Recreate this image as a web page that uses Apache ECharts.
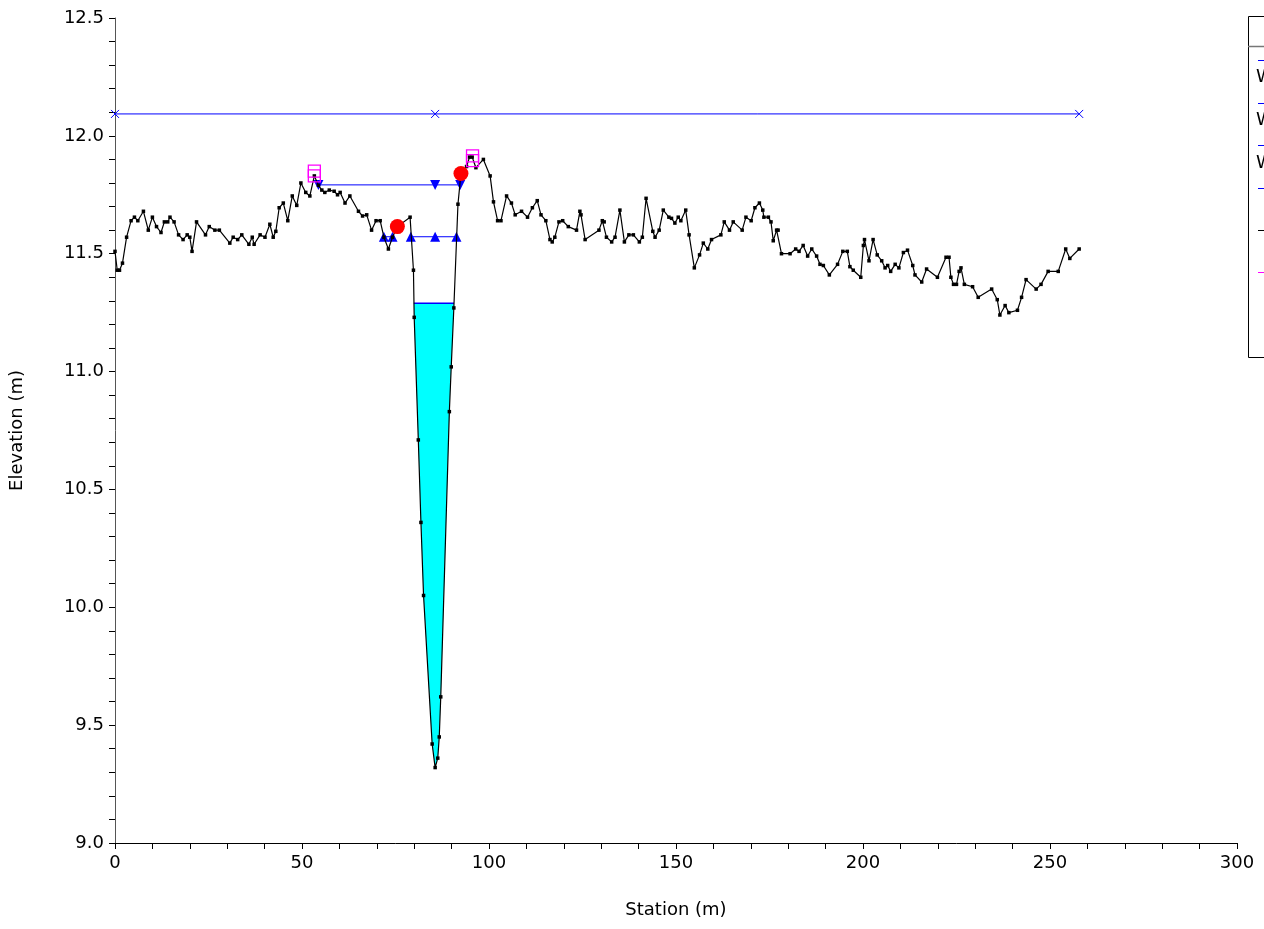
<!DOCTYPE html>
<html>
<head>
<meta charset="utf-8">
<script src="https://cdn.jsdelivr.net/npm/echarts@6/dist/echarts.min.js"></script>
<style>html,body{margin:0;padding:0;background:#fff;}#c{width:1264px;height:929px;}</style>
</head>
<body>
<div id="c"></div>
<script>
// ---- data ----
const groundSta = [0.0,0.6,1.2,2.0,3.1,4.3,5.2,6.1,7.6,8.9,10.0,11.1,12.3,13.2,14.1,14.7,15.8,17.0,18.2,19.3,20.0,20.6,21.8,24.2,25.2,26.7,27.9,30.7,31.6,32.8,33.9,35.8,36.7,37.2,38.8,40.1,41.4,42.3,43.0,43.9,45.0,46.2,47.4,48.6,49.7,51.0,52.1,53.3,54.4,55.3,56.1,57.3,58.6,59.5,60.2,61.5,62.8,65.1,66.2,67.3,68.6,69.8,70.9,71.9,73.1,74.2,75.5,78.9,79.8,80.0,81.1,81.8,82.5,84.8,85.6,86.3,86.7,87.1,89.4,89.9,90.6,91.7,92.5,94.0,94.8,95.5,96.5,98.5,100.3,101.2,102.3,103.2,104.7,106.0,107.0,108.7,110.3,111.6,112.9,113.9,115.2,116.3,116.9,117.6,118.7,119.7,121.2,123.4,124.3,124.6,125.7,129.4,130.3,130.8,131.4,132.8,133.7,135.0,136.2,137.4,138.6,140.2,141.0,142.0,143.8,144.4,145.5,146.6,148.1,148.8,149.7,150.6,151.3,152.6,153.5,154.9,156.3,157.3,158.5,159.5,162.0,162.9,164.3,165.3,167.7,168.7,170.1,171.1,172.3,173.2,173.5,174.7,175.4,176.0,176.9,177.3,178.2,180.5,182.0,182.9,184.0,185.2,186.3,187.6,188.5,189.4,191.0,193.2,194.6,195.8,196.5,197.4,199.4,200.1,200.4,201.6,202.7,203.8,205.0,205.9,206.6,207.4,208.6,209.6,210.8,211.9,213.3,213.9,215.7,217.0,219.9,222.2,223.0,223.5,224.2,225.0,225.7,226.2,227.1,229.3,230.8,234.4,235.9,236.6,238.0,239.0,241.3,242.4,243.6,246.3,247.6,249.5,252.2,254.2,255.3,257.8];
const groundEl = [11.51,11.43,11.43,11.46,11.57,11.64,11.655,11.64,11.68,11.60,11.655,11.615,11.59,11.635,11.635,11.655,11.635,11.58,11.56,11.58,11.57,11.51,11.635,11.58,11.615,11.60,11.60,11.545,11.57,11.56,11.58,11.54,11.57,11.54,11.58,11.57,11.625,11.57,11.595,11.695,11.715,11.64,11.745,11.705,11.80,11.76,11.745,11.83,11.79,11.77,11.76,11.77,11.765,11.75,11.76,11.715,11.745,11.68,11.66,11.665,11.60,11.64,11.64,11.57,11.52,11.57,11.615,11.655,11.43,11.23,10.71,10.36,10.05,9.42,9.32,9.36,9.45,9.62,10.83,11.02,11.27,11.71,11.84,11.87,11.91,11.91,11.865,11.90,11.83,11.72,11.64,11.64,11.745,11.715,11.665,11.68,11.655,11.695,11.725,11.665,11.64,11.56,11.55,11.57,11.635,11.64,11.615,11.60,11.68,11.665,11.56,11.60,11.64,11.635,11.57,11.55,11.57,11.685,11.55,11.58,11.58,11.55,11.57,11.735,11.595,11.57,11.60,11.685,11.655,11.65,11.63,11.655,11.64,11.685,11.58,11.44,11.495,11.545,11.52,11.56,11.58,11.635,11.60,11.635,11.60,11.655,11.64,11.695,11.715,11.685,11.655,11.655,11.635,11.555,11.60,11.60,11.50,11.50,11.52,11.51,11.535,11.49,11.52,11.49,11.455,11.45,11.41,11.455,11.51,11.51,11.445,11.43,11.40,11.535,11.56,11.47,11.56,11.495,11.47,11.44,11.45,11.425,11.455,11.44,11.505,11.515,11.45,11.41,11.38,11.435,11.40,11.485,11.485,11.40,11.37,11.37,11.425,11.44,11.37,11.36,11.315,11.35,11.305,11.24,11.28,11.25,11.26,11.315,11.39,11.35,11.37,11.425,11.425,11.52,11.48,11.52];

const wsTopSta = [0.0, 85.6, 257.8];      const wsTopEl = 12.093;
const wsHighSta = [54.4, 85.6, 92.3];     const wsHighEl = 11.792;
const wsMidLeftSta = [71.9, 74.2];
const wsMidMainSta = [79.1, 85.6, 91.3];  const wsMidEl = 11.572;
const wsLowSta = [79.9, 90.65];           const wsLowEl = 11.29;
const bankSta = [75.5, 92.5];             const bankEl = [11.615, 11.84];
const leveeSta = [53.3, 53.3, 95.6, 95.6]; const leveeEl = [11.85, 11.83, 11.915, 11.895];
const legendLabels = ['WS PF 4', 'WS PF 3', 'WS PF 2'];

// ---- build ----
const ground = groundSta.map((s, i) => [s, groundEl[i]]);
const poly = [[wsLowSta[0], wsLowEl]]
  .concat(ground.filter(p => p[0] > wsLowSta[0] && p[0] < wsLowSta[1]))
  .concat([[wsLowSta[1], wsLowEl]]);
const xSym = 'path://M0,0L10,10M10,0L0,10';
const BLUE = '#0000ff';
const F = 'DejaVu Sans, Arial, sans-serif';
const FS = 18;

const chart = echarts.init(document.getElementById('c'));
chart.setOption({
  animation: false,
  backgroundColor: '#fff',
  grid: { left: 115, right: 27, top: 18, bottom: 86 },
  xAxis: {
    type: 'value', min: 0, max: 300, interval: 50,
    name: 'Station (m)', nameLocation: 'middle', nameGap: 58,
    nameTextStyle: { color: '#000', fontSize: FS, fontFamily: F },
    axisLine: { show: true, onZero: false, lineStyle: { color: '#000', width: 1 } },
    axisTick: { show: true, length: 6, lineStyle: { color: '#000' } },
    minorTick: { show: true, splitNumber: 5, length: 6, lineStyle: { color: '#000' } },
    axisLabel: { color: '#000', fontSize: FS, fontFamily: F, margin: 11 },
    splitLine: { show: false }
  },
  yAxis: {
    type: 'value', min: 9.0, max: 12.5, interval: 0.5,
    name: 'Elevation (m)', nameLocation: 'middle', nameGap: 89,
    nameTextStyle: { color: '#000', fontSize: FS, fontFamily: F },
    axisLine: { show: true, onZero: false, lineStyle: { color: '#555', width: 1 } },
    axisTick: { show: true, length: 6, lineStyle: { color: '#000' } },
    minorTick: { show: true, splitNumber: 5, length: 6, lineStyle: { color: '#000' } },
    axisLabel: { color: '#000', fontSize: FS, fontFamily: F, margin: 11, formatter: v => v.toFixed(1) },
    splitLine: { show: false }
  },
  series: [
    {
      type: 'custom', coordinateSystem: 'cartesian2d', data: [[85, 10]], z: 1, silent: true,
      renderItem: (params, api) => ({
        type: 'polygon',
        shape: { points: poly.map(p => api.coord(p)) },
        style: { fill: '#00ffff', stroke: 'none' }
      })
    },
    {
      type: 'line', data: wsLowSta.map(s => [s, wsLowEl]), symbol: 'none', z: 2,
      lineStyle: { color: BLUE, width: 1.5 }
    },
    {
      type: 'line', data: wsTopSta.map(s => [s, wsTopEl]), z: 3,
      symbol: xSym, symbolSize: 8,
      itemStyle: { color: 'transparent', borderColor: BLUE, borderWidth: 1 },
      lineStyle: { color: BLUE, width: 1 }
    },
    {
      type: 'line', data: wsHighSta.map(s => [s, wsHighEl]), z: 3,
      symbol: 'triangle', symbolRotate: 180, symbolSize: 10,
      itemStyle: { color: BLUE }, lineStyle: { color: BLUE, width: 1 }
    },
    {
      type: 'line', data: wsMidLeftSta.map(s => [s, wsMidEl]), z: 3,
      symbol: 'triangle', symbolSize: 10,
      itemStyle: { color: BLUE }, lineStyle: { color: BLUE, width: 1 }
    },
    {
      type: 'line', data: wsMidMainSta.map(s => [s, wsMidEl]), z: 3,
      symbol: 'triangle', symbolSize: 10,
      itemStyle: { color: BLUE }, lineStyle: { color: BLUE, width: 1 }
    },
    {
      type: 'line', data: ground, z: 4,
      symbol: 'rect', symbolSize: 3.5, showAllSymbol: true,
      itemStyle: { color: '#000' }, lineStyle: { color: '#000', width: 1.2 }
    },
    {
      type: 'scatter', data: bankSta.map((s, i) => [s, bankEl[i]]), z: 5,
      symbol: 'circle', symbolSize: 15, itemStyle: { color: '#ff0000', opacity: 1 }
    },
    {
      type: 'scatter', data: leveeSta.map((s, i) => [s, leveeEl[i]]), z: 5,
      symbol: 'rect', symbolSize: 12,
      itemStyle: { color: 'transparent', borderColor: '#ff00ff', borderWidth: 1.3, opacity: 1 }
    }
  ],
  graphic: [
    { type: 'rect', shape: { x: 1248.5, y: 16.5, width: 40, height: 341 }, style: { fill: '#fff', stroke: '#000', lineWidth: 1 }, z: 10 },
    { type: 'line', shape: { x1: 1248, y1: 46.5, x2: 1264, y2: 46.5 }, style: { stroke: '#777', lineWidth: 1.5 }, z: 11 },
    { type: 'line', shape: { x1: 1258, y1: 60.5, x2: 1264, y2: 60.5 }, style: { stroke: BLUE, lineWidth: 1 }, z: 11 },
    { type: 'line', shape: { x1: 1258, y1: 103.5, x2: 1264, y2: 103.5 }, style: { stroke: BLUE, lineWidth: 1 }, z: 11 },
    { type: 'line', shape: { x1: 1258, y1: 145.5, x2: 1264, y2: 145.5 }, style: { stroke: BLUE, lineWidth: 1 }, z: 11 },
    { type: 'line', shape: { x1: 1258, y1: 188.5, x2: 1264, y2: 188.5 }, style: { stroke: BLUE, lineWidth: 1 }, z: 11 },
    { type: 'line', shape: { x1: 1258, y1: 230.5, x2: 1264, y2: 230.5 }, style: { stroke: '#000', lineWidth: 1 }, z: 11 },
    { type: 'line', shape: { x1: 1258, y1: 272.5, x2: 1264, y2: 272.5 }, style: { stroke: '#ff00ff', lineWidth: 1 }, z: 11 },
    { type: 'text', x: 1256, y: 77, style: { text: legendLabels[0], fontSize: FS, fontFamily: F, fill: '#000', verticalAlign: 'middle' }, z: 11 },
    { type: 'text', x: 1256, y: 120, style: { text: legendLabels[1], fontSize: FS, fontFamily: F, fill: '#000', verticalAlign: 'middle' }, z: 11 },
    { type: 'text', x: 1256, y: 163, style: { text: legendLabels[2], fontSize: FS, fontFamily: F, fill: '#000', verticalAlign: 'middle' }, z: 11 }
  ]
});
</script>
</body>
</html>
